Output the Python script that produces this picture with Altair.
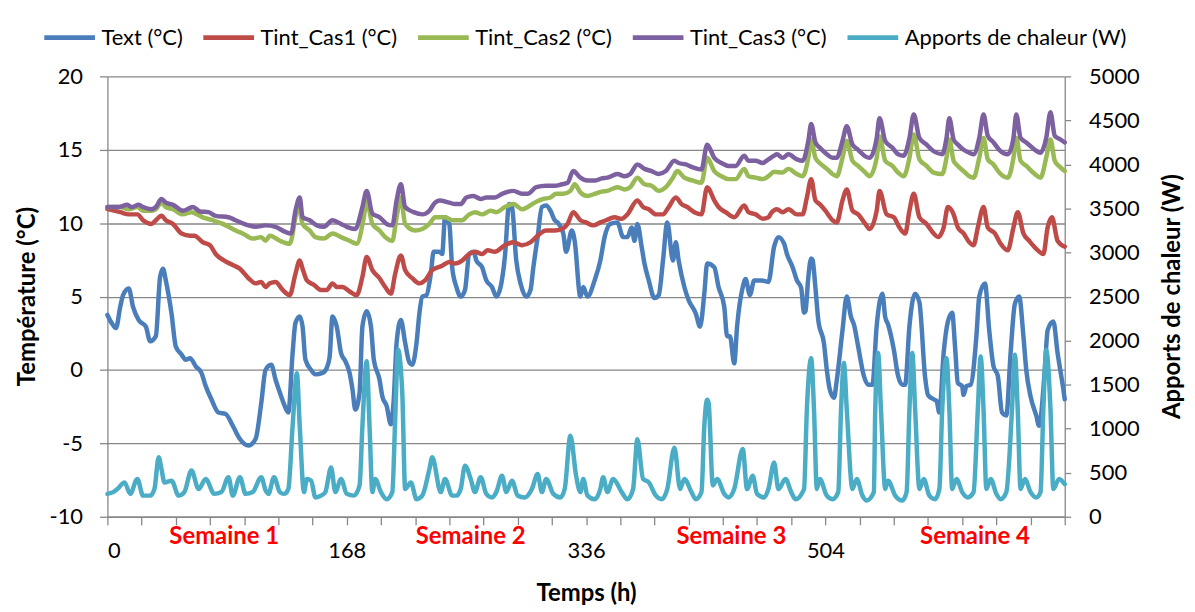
import altair as alt
import pandas as pd

# ---------------- data (hour, value) ----------------
TEXT = [[0,3.75],[3,3.2],[6,2.85],[9,4.3],[11,5.1],[15,5.55],[18,4.3],[22,3.4],[27,2.95],[30,1.95],[34,2.3],[37,6.35],[39,6.9],[41,6.1],[45,3.85],[48,1.6],[52,1.05],[55,0.7],[58,0.8],[62,0.25],[66,-0.2],[69,-1.1],[73,-2.0],[78,-2.9],[83,-3.0],[88,-3.8],[93,-4.7],[99,-5.15],[104,-4.7],[108,-2.25],[111,0.0],
        [115,0.35],[118,-0.65],[122,-1.8],[124,-2.35],[127,-2.9],[130,1.15],[132,3.2],[135,3.65],[137,2.95],[139,0.7],[143,0.0],[146,-0.3],[151,-0.2],[154,0.15],[156,0.9],[158,3.65],[161,2.95],[164,1.15],[167,0.6],[170,-0.2],[172,-1.3],[174,-2.7],[177,-1.55],[179,2.95],[182,4.0],[185,2.95],[187,0.7],[191,-0.65],[193,-1.8],[196,-2.45],[199,-3.7],[201,-2.0],[203,1.85],[206,3.4],[209,1.85],[212,0.5],[214,0.35],[217,1.85],[219,3.85],[221,5.0],[224,5.1],[227,6.55],[229,8.05],
        [233,8.05],[235,7.9],[237,10.4],[240,9.95],[242,7.0],[245,5.65],[248,5.0],[251,5.45],[254,7.9],[257,8.05],[259,7.45],[263,7.0],[266,6.1],[270,5.65],[273,5.0],[276,5.65],[279,7.7],[282,11.3],[284,11.1],[287,7.45],[290,5.9],[294,5.0],[297,5.45],[299,7.0],[302,9.05],[305,11.1],[308,11.2],[311,10.85],[314,10.2],[316,10.05],[320,9.3],[322,8.05],[326,9.5],[328,8.8],[332,5.0],[334,5.65],[337,5.0],[342,6.1],[346,7.45],
        [349,9.05],[353,9.95],[358,10.05],[362,9.05],[365,9.05],[368,9.7],[370,8.8],[372,9.95],[375,8.4],[377,7.25],[380,6.1],[384,4.9],[387,5.1],[390,7.45],[393,10.05],[397,7.45],[399,8.7],[401,7.45],[405,5.65],[408,4.75],[413,3.85],[416,2.95],[419,5.2],[421,7.25],[426,7.0],[429,5.65],[433,4.3],[435,2.3],[437,2.3],[440,0.45],[442,2.95],[446,5.65],[448,6.2],[451,5.1],[454,6.1],[459,6.1],[464,6.0],
        [468,8.4],[471,9.05],[475,8.6],[477,7.9],[481,7.0],[484,6.1],[487,5.6],[489,3.9],[490,4.0],[492,6.3],[494,7.6],[495,7.5],[497,5.6],[499,3.4],[503,1.8],[505,0.0],[507,-1.3],[510,-1.9],[512,-0.7],[516,2.7],[519,5.0],[522,3.6],[524,3.1],[527,1.6],[531,-0.4],[534,-1.0],[537,-1.0],[540,3.0],[544,5.2],[546,3.6],[548,3.1],[552,1.4],[555,-0.4],[558,-1.0],[560,-1.0],[563,3.0],[567,5.2],[570,4.6],[574,-0.5],[576,-1.7],[580,-2.0],[582,-2.1],[584,-2.9],
        [587,1.15],[590,3.3],[593,3.9],[595,1.6],[597,-0.9],[600,-1.1],[601,-1.7],[603,-1.1],[606,-1.0],[610,2.3],[612,5.0],[616,5.9],[619,2.7],[622,0.25],[625,-0.4],[628,-2.9],[631,-3.1],[634,1.15],[637,4.5],[640,5.0],[643,2.3],[645,0.0],[648,-1.8],[652,-3.1],[654,-3.8],[658,0.0],[660,2.7],[664,3.3],[667,1.15],[671,-1.3],[672,-2.0]]

CAS1 = [[0,10.97],[9,10.75],[15,10.6],[21,10.6],[25,10.2],[31,9.95],[34,10.2],[38,10.5],[41,10.2],[46,9.95],[52,9.3],[58,9.15],[61,9.15],[67,8.7],[72,8.5],[76,7.9],[82,7.45],[88,7.15],[93,6.9],[99,6.25],[104,5.9],[108,6.0],[111,5.65],
        [114,5.9],[118,6.0],[123,5.45],[128,5.1],[132,6.55],[135,7.45],[137,6.9],[140,6.1],[145,5.8],[150,5.45],[154,5.45],[158,5.9],[161,5.65],[165,5.65],[170,5.35],[175,5.1],[179,6.35],[182,7.7],[186,6.8],[191,6.25],[195,5.65],[199,5.2],[202,6.55],[206,7.8],[209,6.8],[214,6.25],[219,5.9],[223,6.1],[228,6.8],
        [235,7.1],[240,7.35],[244,7.25],[249,7.45],[254,7.9],[258,8.05],[263,7.9],[267,8.15],[272,8.05],[279,8.5],[285,8.7],[291,8.5],[297,8.7],[302,9.15],[308,9.5],[314,9.5],[319,9.6],[323,9.95],[327,10.75],[332,10.2],[336,10.05],[341,9.85],[346,10.05],
        [350,10.2],[356,10.4],[361,10.3],[365,10.6],[372,11.55],[376,11.1],[380,10.95],[385,10.6],[390,10.6],[394,11.1],[399,11.75],[403,11.3],[407,11.1],[412,10.75],[417,10.6],[421,12.45],[426,11.55],[429,11.1],[434,10.75],[440,10.4],[447,11.2],[450,10.75],[455,10.6],[460,10.3],[464,10.4],[466,10.7],[470,10.95],
        [474,10.75],[478,10.95],[484,10.6],[488,10.6],[491,11.75],[494,13.0],[497,11.55],[500,11.3],[504,10.85],[509,10.2],[512,10.05],[516,11.55],[519,12.3],[523,10.85],[527,10.6],[532,9.95],[535,9.6],[540,10.85],[542,12.2],[547,10.6],[552,10.4],[556,9.7],[560,9.3],[563,10.85],[566,12.0],[570,10.4],[575,9.95],[580,9.3],[583,9.05],
        [587,9.7],[590,11.1],[594,10.6],[597,9.7],[601,9.3],[605,8.7],[608,8.5],[611,9.7],[615,11.1],[618,9.7],[623,9.3],[627,8.6],[632,8.15],[636,9.7],[639,10.75],[643,9.3],[647,8.8],[652,8.25],[657,7.9],[660,9.7],[663,10.4],[667,8.8],[672,8.4]]

CAS2 = [[0,11.1],[9,11.1],[15,10.95],[21,11.1],[25,10.85],[31,10.85],[34,10.95],[38,11.4],[41,11.1],[46,10.95],[53,10.6],[59,10.75],[67,10.4],[74,10.2],[81,9.95],[86,9.7],[90,9.5],[95,9.3],[102,8.95],[108,9.05],[111,8.8],
        [114,9.15],[121,8.8],[128,8.6],[132,10.4],[134,11.3],[137,9.95],[142,9.5],[146,9.05],[152,8.95],[158,9.3],[164,9.05],[170,8.8],[175,8.6],[180,10.4],[182,11.5],[186,9.95],[191,9.5],[195,9.05],[200,8.8],[203,10.4],[206,11.75],[209,9.95],[216,9.5],[221,9.6],[226,9.95],[230,10.4],
        [237,10.4],[242,10.2],[249,10.2],[254,10.6],[258,10.75],[263,10.6],[269,10.85],[273,10.75],[279,11.1],[285,11.3],[291,10.95],[295,11.1],[300,11.4],[306,11.65],[311,11.75],[315,12.0],[320,12.0],[325,12.2],[328,12.65],[332,12.1],[337,11.85],[342,12.0],[347,12.15],
        [351,12.2],[358,12.45],[363,12.3],[367,12.45],[372,13.1],[377,12.65],[382,12.55],[387,12.2],[392,12.45],[397,13.1],[400,13.55],[405,13.1],[411,12.9],[417,12.75],[421,14.45],[426,13.55],[431,13.2],[436,13.0],[441,13.0],[447,13.7],[450,13.2],[455,13.1],[460,13.0],[464,13.2],[468,13.5],
        [474,13.45],[478,13.7],[484,13.35],[488,13.2],[492,14.45],[494,15.7],[497,14.45],[500,14.1],[505,13.7],[509,13.35],[512,13.2],[516,14.45],[519,15.6],[523,14.25],[527,13.9],[532,13.45],[535,13.2],[540,14.45],[542,15.9],[546,14.25],[551,13.9],[555,13.45],[559,13.2],[563,14.45],[566,16.05],[570,14.35],[575,13.9],[580,13.45],
        [586,13.35],[589,14.45],[591,15.7],[594,14.25],[597,13.9],[601,13.55],[605,13.2],[608,13.1],[612,14.45],[615,15.8],[618,14.35],[622,14.0],[626,13.45],[632,13.1],[636,14.45],[638,15.8],[641,14.25],[645,13.9],[651,13.35],[655,13.1],[659,14.45],[662,15.7],[665,14.25],[669,13.8],[672,13.55]]

CAS3 = [[0,11.1],[8,11.1],[14,11.25],[17,11.1],[22,11.25],[25,11.1],[31,10.95],[34,11.1],[38,11.65],[41,11.4],[46,11.25],[53,10.85],[60,11.1],[65,10.8],[71,10.75],[76,10.5],[85,10.4],[90,10.2],[99,9.85],[104,9.75],[111,9.85],
        [118,9.75],[125,9.4],[129,9.3],[132,10.85],[135,11.75],[137,10.4],[142,10.2],[147,9.85],[152,9.75],[158,10.2],[164,9.95],[168,9.75],[174,9.6],[179,11.1],[182,12.2],[186,10.65],[191,10.4],[196,9.95],[200,9.85],[203,11.55],[206,12.65],[209,11.1],[215,10.75],[221,10.6],[226,10.85],[230,11.4],
        [233,11.55],[240,11.4],[244,11.3],[248,11.3],[252,11.75],[257,11.85],[262,11.65],[266,11.75],[272,11.75],[277,12.0],[285,12.2],[291,12.0],[295,12.0],[301,12.45],[308,12.55],[314,12.55],[319,12.65],[323,12.75],[327,13.55],[332,13.1],[337,12.9],[342,12.9],[347,13.05],
        [351,13.1],[358,13.35],[363,13.2],[367,13.35],[372,14.0],[377,13.7],[382,13.55],[387,13.35],[392,13.55],[398,14.25],[401,14.1],[406,14.0],[411,13.8],[417,13.65],[421,15.35],[426,14.45],[431,14.1],[436,13.9],[441,13.9],[447,14.6],[450,14.25],[455,14.25],[460,14.1],[464,14.35],[468,14.6],
        [470,14.7],[474,14.45],[478,14.7],[484,14.35],[488,14.25],[492,15.6],[494,16.75],[497,15.5],[500,15.15],[505,14.7],[509,14.45],[512,14.45],[516,15.6],[519,16.6],[523,15.35],[527,15.0],[532,14.55],[535,14.45],[540,15.8],[542,17.15],[546,15.6],[551,15.15],[555,14.7],[559,14.6],[563,15.8],[566,17.4],[570,15.8],[575,15.35],[580,14.9],
        [586,14.7],[589,15.8],[591,17.15],[594,15.7],[597,15.35],[601,15.0],[605,14.8],[608,14.7],[612,15.8],[615,17.4],[618,15.95],[622,15.5],[626,15.0],[632,14.7],[636,15.8],[638,17.4],[641,15.8],[645,15.5],[651,15.0],[655,14.8],[659,15.8],[662,17.55],[665,15.95],[669,15.7],[672,15.5]]

APPORTS = [[0,260],[4,280],[7,315],[12,390],[16,260],[21,430],[25,240],[30,240],[33,315],[36,675],[38,540],[40,390],[45,410],[50,240],[54,280],[59,525],[64,315],[69,430],[75,260],[80,280],[85,450],[88,240],[93,450],[97,260],[102,280],[108,450],[111,300],
           [113,260],[117,450],[121,280],[124,260],[127,315],[130,1030],[133,1630],[135,1030],[138,280],[140,430],[143,410],[146,220],[150,240],[153,280],[157,560],[160,280],[164,430],[168,260],[173,240],[177,355],[179,1030],[182,1765],[184,1030],[186,280],[188,430],[192,280],[196,200],[200,280],[202,1105],[204,1895],[207,1405],[209,315],[213,390],[217,200],[221,240],[226,540],[228,675],
           [234,280],[237,430],[242,240],[245,240],[248,315],[251,580],[255,430],[258,280],[262,450],[266,260],[270,220],[273,280],[277,465],[280,280],[284,410],[288,240],[293,220],[298,315],[302,485],[305,280],[308,430],[313,260],[318,220],[321,315],[325,920],[329,465],[332,280],[334,430],[337,240],[342,200],[346,315],[348,450],
           [351,280],[355,430],[361,280],[365,200],[369,315],[372,880],[376,430],[380,390],[385,240],[389,200],[393,315],[398,785],[402,315],[405,430],[410,280],[413,200],[417,280],[419,1030],[421,1330],[422,1295],[425,355],[428,430],[433,260],[436,220],[440,315],[446,770],[449,315],[453,465],[456,260],[461,220],[464,315],[468,615],
           [471,315],[476,430],[480,280],[483,200],[489,315],[491,1220],[494,1800],[496,1220],[498,315],[500,430],[505,240],[509,200],[513,280],[515,1220],[517,1745],[519,1220],[523,315],[526,430],[530,240],[533,185],[538,280],[539,1220],[541,1860],[543,1220],[546,315],[548,410],[553,240],[558,185],[561,280],[563,1220],[565,1860],[567,1220],[570,315],[573,430],[577,240],[581,200],
           [584,315],[586,1220],[589,1800],[591,1220],[593,315],[596,430],[600,280],[604,220],[608,280],[611,1220],[613,1820],[615,1220],[617,315],[620,430],[624,260],[627,200],[631,280],[635,1220],[637,1840],[639,1220],[641,315],[644,430],[648,280],[652,220],[655,280],[657,1220],[659,1895],[662,1220],[664,315],[668,430],[672,370]]

SERIES = ["Text (°C)", "Tint_Cas1 (°C)", "Tint_Cas2 (°C)", "Tint_Cas3 (°C)", "Apports de chaleur (W)"]
COLORS = ["#4A7EBB", "#BE4B48", "#98B954", "#7D60A0", "#4BACC6"]
X_TICKS = list(range(0, 673, 24))
TEMP_TICKS = [-10, -5, 0, 5, 10, 15, 20]
W_TICKS = [0, 500, 1000, 1500, 2000, 2500, 3000, 3500, 4000, 4500, 5000]
WEEK_LABELS = ["Semaine 1", "Semaine 2", "Semaine 3", "Semaine 4"]
WEEK_HOURS = [82, 255, 438, 609]

# ---------------- tables ----------------
rows = []
for name, ser in zip(SERIES[:4], [TEXT, CAS1, CAS2, CAS3]):
    for h, v in ser:
        rows.append({"serie": name, "h": h, "v": v})
temp_df = pd.DataFrame(rows)
app_df = pd.DataFrame([{"serie": SERIES[4], "h": h, "w": w} for h, w in APPORTS])
week_df = pd.DataFrame({"label": WEEK_LABELS, "h": WEEK_HOURS})

FONT = "Lato"
GRAY = "#878787"

color_scale = alt.Scale(domain=SERIES, range=COLORS)
x_scale = alt.Scale(domain=[0, 672], nice=False, zero=False)

x_axis = alt.Axis(values=X_TICKS, grid=False, tickSize=8, labelPadding=16,
                  labelExpr="(datum.value % 168 == 0 && datum.value < 672) ? datum.label : ''",
                  labelOverlap=False, title="Temps (h)", titleY=77, titleBaseline="middle",
                  titleFontSize=24, titleFontWeight="bold")

legend = alt.Legend(title=None, orient="none", direction="horizontal", columns=5,
                    legendX=-66, legendY=-67, symbolType="stroke", symbolSize=2600,
                    symbolStrokeWidth=5, labelFontSize=22, labelFont=FONT, labelLimit=0,
                    labelOffset=4, columnPadding=10, padding=0, labelColor="#000000")

line_props = dict(strokeWidth=4.5, interpolate="monotone", strokeCap="round", strokeJoin="round")

temp_lines = alt.Chart(temp_df).mark_line(**line_props).encode(
    x=alt.X("h:Q", scale=x_scale, axis=x_axis),
    y=alt.Y("v:Q", scale=alt.Scale(domain=[-10, 20], nice=False, zero=False),
            axis=alt.Axis(values=TEMP_TICKS, orient="left", grid=True, gridColor=GRAY, gridWidth=1.3,
                          tickSize=8, labelPadding=17, title="Température (°C)",
                          labelExpr="datum.value < 0 ? '-' + abs(datum.value) : '' + datum.value",
                          titleAngle=-90, titleX=-80, titleY=221, titleAlign="center",
                          titleBaseline="middle", titleFontSize=24, titleFontWeight="bold")),
    color=alt.Color("serie:N", scale=color_scale, legend=legend),
)

week_text = alt.Chart(week_df).mark_text(font=FONT, fontSize=24, fontWeight="bold",
                                         color="#FF0000", baseline="middle", align="center").encode(
    x=alt.X("h:Q", scale=x_scale, axis=x_axis),
    y=alt.value(463),
    text="label:N",
)

app_line = alt.Chart(app_df).mark_line(**line_props).encode(
    x=alt.X("h:Q", scale=x_scale, axis=x_axis),
    y=alt.Y("w:Q", scale=alt.Scale(domain=[0, 5000], nice=False, zero=True),
            axis=alt.Axis(values=W_TICKS, orient="right", grid=False, tickSize=6, labelPadding=18,
                          format="d",
                          title="Apports de chaleur (W)", titleAngle=-90, titleX=108, titleY=221,
                          titleAlign="center", titleBaseline="middle", titleFontSize=24,
                          titleFontWeight="bold")),
    color=alt.Color("serie:N", scale=color_scale, legend=legend),
)

chart = alt.layer(temp_lines, app_line, week_text).resolve_scale(y="independent").properties(
    width=963, height=443,
    autosize=alt.AutoSizeParams(type="none"),
    padding={"left": 100, "top": 67, "right": 123, "bottom": 92},
).configure_view(stroke=None).configure_axis(
    labelFont=FONT, titleFont=FONT, labelFontSize=22, labelColor="#000000", titleColor="#000000",
    domainColor=GRAY, domainWidth=1.3, tickColor=GRAY, tickWidth=1.3,
)

chart.save("out.html", embed_options={"renderer": "svg", "actions": False})
